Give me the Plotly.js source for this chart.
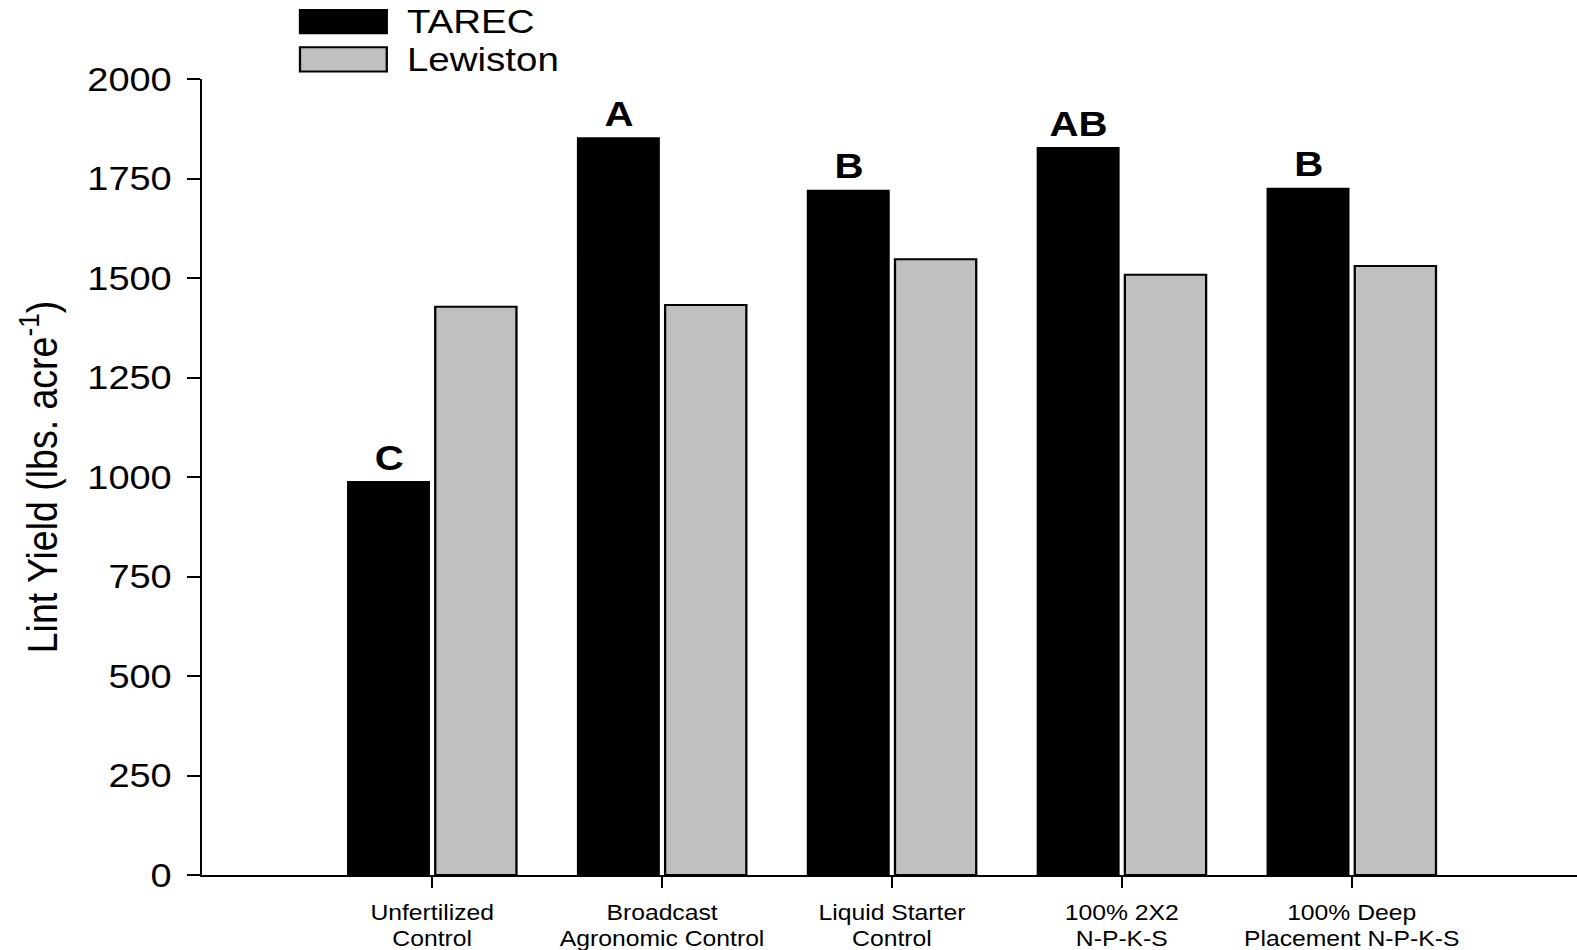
<!DOCTYPE html>
<html>
<head>
<meta charset="utf-8">
<script src="https://cdn.plot.ly/plotly-3.0.1.min.js"></script>
<style>
  html, body { margin: 0; padding: 0; background: #ffffff; overflow: hidden; }
  /* the figure is laid out narrower and widened horizontally, giving the wide lettering */
  #chart { width: 1372px; height: 950px; transform: scaleX(1.1494); transform-origin: 0 0; }
</style>
</head>
<body>
<div id="chart"></div>
<script>
// Treatments along the x axis (first line / second line of each label)
const treatmentLine1 = ["Unfertilized", "Broadcast", "Liquid Starter", "100% 2X2", "100% Deep"];
const treatmentLine2 = ["Control", "Agronomic Control", "Control", "N-P-K-S", "Placement N-P-K-S"];
// Lint yield, lbs. per acre
const tarecYield = [988, 1852, 1720, 1827, 1725];
const lewistonYield = [1428, 1432, 1547, 1508, 1530];
// Mean separation letters for the TAREC site
const tarecLetters = ["C", "A", "B", "AB", "B"];
const seriesNames = ["TAREC", "Lewiston"];
const yTickVals = [0, 250, 500, 750, 1000, 1250, 1500, 1750, 2000];

const FONT = "Liberation Sans, Arial, Helvetica, sans-serif";
const W = 1372, H = 950, mL = 176, mR = 0, mT = 79, mB = 75;
const plotW = W - mL - mR, plotH = H - mT - mB;
const px2x = px => (px - mL) / plotW;
const px2y = py => (H - mB - py) / plotH;

const catIdx = treatmentLine1.map((_, i) => i);
const xRange = [-1, 4.98];

const traces = [
  {
    type: "bar",
    name: seriesNames[0],
    x: catIdx,
    y: tarecYield,
    marker: { color: "#000000", line: { color: "#000000", width: 1.5 } },
    hoverinfo: "y"
  },
  {
    type: "bar",
    name: seriesNames[1],
    x: catIdx,
    y: lewistonYield,
    marker: { color: "#c0c0c0", line: { color: "#000000", width: 2 } },
    hoverinfo: "y"
  }
];

// letters sit just above each TAREC bar (left bar of each pair)
const blackOffset = -0.19;
const letterAnnotations = tarecLetters.map((t, i) => ({
  x: catIdx[i] + blackOffset,
  y: tarecYield[i],
  xref: "x", yref: "y",
  text: "<b>" + t + "</b>",
  showarrow: false,
  yanchor: "bottom",
  yshift: 3,
  font: { family: FONT, size: 35, color: "#000000" }
}));

// legend drawn as swatches + labels in the top-left corner
const legendRows = [
  { name: seriesNames[0], fill: "#000000", top: 10, bottom: 33.2, mid: 21.8 },
  { name: seriesNames[1], fill: "#c0c0c0", top: 47.3, bottom: 71.4, mid: 59.6 }
];
const legendShapes = legendRows.map(r => ({
  type: "rect", xref: "paper", yref: "paper",
  x0: px2x(261), x1: px2x(336.5),
  y0: px2y(r.bottom), y1: px2y(r.top),
  fillcolor: r.fill,
  line: { color: "#000000", width: 2 }
}));
const legendLabels = legendRows.map(r => ({
  xref: "paper", yref: "paper",
  x: px2x(352), y: px2y(r.mid),
  xanchor: "left", yanchor: "middle",
  text: r.name, showarrow: false,
  font: { family: FONT, size: 33.5, color: "#000000" }
}));

const xTickFont = { family: FONT, size: 21.5, color: "#000000" };

const layout = {
  width: W, height: H,
  margin: { l: mL, r: mR, t: mT, b: mB, pad: 0 },
  paper_bgcolor: "#ffffff",
  plot_bgcolor: "#ffffff",
  font: { family: FONT, color: "#000000" },
  showlegend: false,
  barmode: "group",
  bargap: 0.24,
  bargroupgap: 0.07,
  xaxis: {
    type: "linear",
    range: xRange,
    tickmode: "array",
    tickvals: catIdx,
    ticktext: treatmentLine1,
    ticks: "outside",
    ticklen: 11,
    tickwidth: 2,
    tickcolor: "#000000",
    showline: true,
    linecolor: "#000000",
    linewidth: 2,
    showgrid: false,
    zeroline: false,
    automargin: false,
    ticklabelstandoff: 6,
    tickfont: xTickFont
  },
  // second line of each treatment label, set a line lower
  xaxis2: {
    type: "linear",
    overlaying: "x",
    anchor: "y",
    side: "bottom",
    range: xRange,
    tickmode: "array",
    tickvals: catIdx,
    ticktext: treatmentLine2,
    ticks: "",
    showline: false,
    showgrid: false,
    zeroline: false,
    automargin: false,
    ticklabelstandoff: 49,
    tickfont: xTickFont
  },
  yaxis: {
    range: [0, 2000],
    tickmode: "array",
    tickvals: yTickVals,
    ticktext: yTickVals.map(String),
    ticks: "outside",
    ticklen: 11,
    tickwidth: 2,
    tickcolor: "#000000",
    showline: true,
    linecolor: "#000000",
    linewidth: 2,
    showgrid: false,
    zeroline: false,
    automargin: false,
    ticklabelstandoff: 7,
    tickfont: { family: FONT, size: 33, color: "#000000" },
    title: {
      text: "Lint Yield (lbs. acre<sup>-1</sup>)",
      font: { family: FONT, size: 37.5, color: "#000000" },
      standoff: 14
    }
  },
  shapes: legendShapes,
  annotations: letterAnnotations.concat(legendLabels)
};

// an invisible trace keeps the second label axis on the page
traces.push({
  type: "scatter", x: [catIdx[0]], y: [0], xaxis: "x2", yaxis: "y",
  mode: "markers", marker: { opacity: 0 }, hoverinfo: "skip", showlegend: false
});

Plotly.newPlot("chart", traces, layout, { displayModeBar: false, staticPlot: true });
</script>
</body>
</html>
